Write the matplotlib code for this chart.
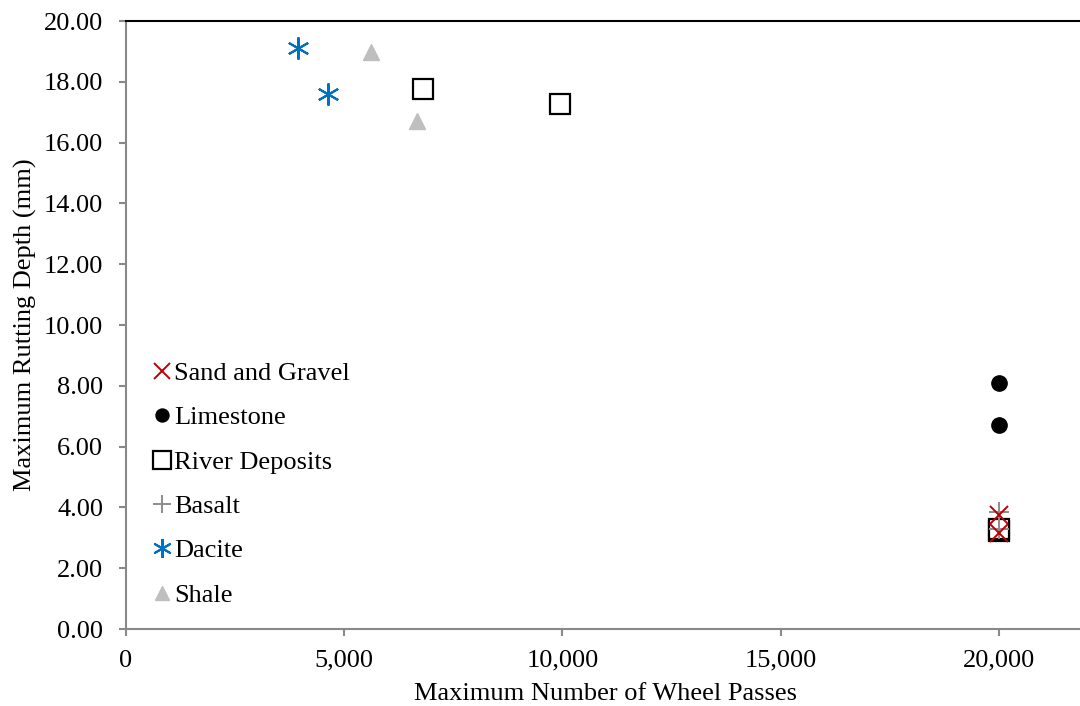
import matplotlib.pyplot as plt
from matplotlib.ticker import FuncFormatter

plt.rcParams['font.family'] = ['Liberation Serif', 'DejaVu Serif']

# Data
sand_x = [20000, 20000]
sand_y = [3.75, 3.16]
lime_x = [20000, 20000]
lime_y = [8.09, 6.71]
river_x = [6800, 9940, 20000, 20000]
river_y = [17.76, 17.27, 3.22, 3.30]
basalt_x = [20000, 20000]
basalt_y = [3.86, 3.30]
dacite_x = [3940, 4630]
dacite_y = [19.11, 17.60]
shale_x = [5610, 6670]
shale_y = [18.98, 16.71]

axis_gray = '#898989'

fig = plt.figure(figsize=(10.8, 7.06), dpi=100)
ax = fig.add_axes([126 / 1080, 1 - 629 / 706, (1086 - 126) / 1080, (629 - 21) / 706])

ax.plot(sand_x, sand_y, linestyle='none', marker='x', ms=13, mew=1.4,
        color='#c00000', label='Sand and Gravel', zorder=5)
ax.plot(lime_x, lime_y, linestyle='none', marker='o', ms=11,
        color='black', label='Limestone')
ax.plot(river_x, river_y, linestyle='none', marker='s', ms=15, mew=1.6,
        mfc='white', mec='black', label='River Deposits')
ax.plot(basalt_x, basalt_y, linestyle='none', marker='+', ms=15, mew=1.4,
        color='#8c8c8c', label='Basalt', zorder=4)
ax.plot(dacite_x, dacite_y, linestyle='none', marker=(6, 2, 0), ms=16, mew=1.5,
        color='#0070c0', label='Dacite')
ax.plot(shale_x, shale_y, linestyle='none', marker='^', ms=12,
        color='#bfbfbf', label='Shale')

ax.set_xlim(0, 22000)
ax.set_ylim(0, 20)
ax.set_xticks([0, 5000, 10000, 15000, 20000])
ax.set_yticks(range(0, 21, 2))
ax.xaxis.set_major_formatter(FuncFormatter(lambda v, p: f'{v:,.0f}'))
ax.yaxis.set_major_formatter(FuncFormatter(lambda v, p: f'{v:.2f}'))

for s in ['left', 'bottom']:
    ax.spines[s].set_color(axis_gray)
    ax.spines[s].set_linewidth(1.5)
ax.spines['top'].set_color('black')
ax.spines['top'].set_linewidth(1.5)
ax.spines['right'].set_visible(False)
ax.tick_params(axis='both', direction='out', length=5, width=1.5,
               color=axis_gray, labelsize=19)
ax.tick_params(axis='y', pad=11.5)
ax.tick_params(axis='x', pad=10)

ax.set_xlabel('Maximum Number of Wheel Passes', fontsize=19, labelpad=8)
ax.set_ylabel('Maximum Rutting Depth (mm)', fontsize=19, labelpad=5)

leg = ax.legend(loc='upper left', bbox_to_anchor=(0.017, 0.457), frameon=False,
                fontsize=19, handlelength=0.7, handletextpad=0.1,
                labelspacing=0.79, borderaxespad=0, markerscale=0.85)

fig.savefig('out.png', dpi=100)
